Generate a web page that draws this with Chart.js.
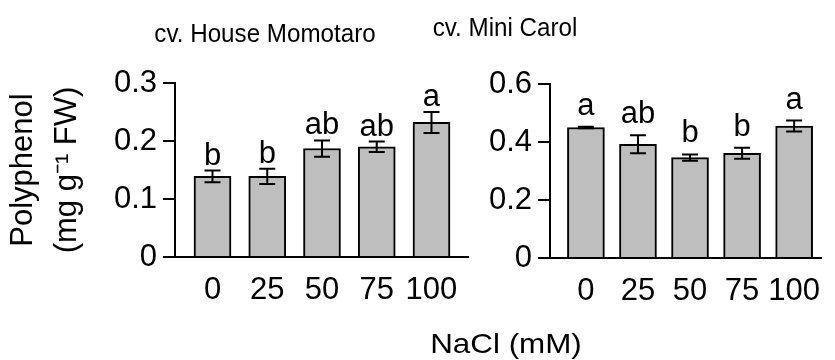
<!DOCTYPE html>
<html>
<head>
<meta charset="utf-8">
<script src="https://cdn.jsdelivr.net/npm/chart.js@4.4.0/dist/chart.umd.min.js"></script>
<style>
  body { margin: 0; background: #fff; }
  #wrap { position: relative; width: 835px; height: 360px; font-family: "Liberation Sans", Arial, sans-serif; color: #000; }
  canvas { position: absolute; left: 0; top: 0; }
  .txt { position: absolute; white-space: nowrap; line-height: 1; transform-origin: center; }
</style>
</head>
<body>
<div id="wrap">
  <canvas id="chartMomotaro" width="835" height="360"></canvas>
  <canvas id="chartCarol" width="835" height="360"></canvas>
  <div class="txt" style="left:265px; top:20px; font-size:26px; transform:translateX(-50%) scaleX(0.93);">cv. House Momotaro</div>
  <div class="txt" style="left:505px; top:14px; font-size:26px; transform:translateX(-50%) scaleX(0.93);">cv. Mini Carol</div>
  <div class="txt" style="left:506px; top:330px; font-size:28px; transform:translateX(-50%) scaleX(1.12);">NaCl (mM)</div>
</div>
<script>
// NaCl濃度 (mM)
var doses = ['0', '25', '50', '75', '100'];

// cv. House Momotaro
var momotaroMean = [0.139, 0.139, 0.187, 0.190, 0.232];
var momotaroErr = [0.010, 0.013, 0.014, 0.009, 0.018];
var momotaroLetters = ['b', 'b', 'ab', 'ab', 'a'];
var momotaroTicks = [0, 0.1, 0.2, 0.3];

// cv. Mini Carol
var carolMean = [0.450, 0.392, 0.346, 0.361, 0.455];
var carolErr = [0.003, 0.031, 0.011, 0.019, 0.019];
var carolLetters = ['a', 'ab', 'b', 'b', 'a'];
var carolTicks = [0, 0.2, 0.4, 0.6];

var FONT = '"Liberation Sans", Arial, sans-serif';

// エラーバーと有意差の文字
var errorBars = {
    id: 'errorBars',
    afterDatasetsDraw: function(chart, args, opts) {
        var ctx = chart.ctx;
        var xs = chart.scales.x, ys = chart.scales.y;
        ctx.save();
        ctx.strokeStyle = '#000';
        ctx.fillStyle = '#000';
        ctx.lineWidth = 2;
        ctx.font = '31px ' + FONT;
        ctx.textAlign = 'center';
        ctx.textBaseline = 'alphabetic';
        opts.means.forEach(function(m, i) {
            var px = xs.getPixelForValue(i);
            var top = ys.getPixelForValue(m + opts.errors[i]);
            var bot = ys.getPixelForValue(m - opts.errors[i]);
            ctx.beginPath();
            ctx.moveTo(px, top); ctx.lineTo(px, bot);
            ctx.moveTo(px - 8, top); ctx.lineTo(px + 8, top);
            ctx.moveTo(px - 8, bot); ctx.lineTo(px + 8, bot);
            ctx.stroke();
            ctx.fillText(opts.letters[i], px, top - opts.gap);
        });
        ctx.restore();
    }
};

function makeChart(id, means, errors, letters, ticks, p) {
    return new Chart(document.getElementById(id), {
        type: 'bar',
        data: {
            datasets: [{
                data: means.map(function(m, i) { return {x: i, y: m}; }),
                backgroundColor: '#bebebe',
                borderColor: '#000',
                borderWidth: 2,
                barThickness: 37
            }]
        },
        options: {
            responsive: false,
            animation: false,
            devicePixelRatio: 1,
            layout: { padding: p.padding },
            plugins: {
                legend: { display: false },
                tooltip: { enabled: false },
                errorBars: { means: means, errors: errors, letters: letters, gap: p.gap }
            },
            scales: {
                x: {
                    type: 'linear',
                    min: p.xMin,
                    max: p.xMax,
                    offset: false,
                    afterBuildTicks: function(s) { s.ticks = doses.map(function(d, i) { return {value: i}; }); },
                    afterFit: function(s) { s.height = p.xHeight; },
                    grid: { display: false, drawTicks: false },
                    border: { display: true, color: '#000', width: 2 },
                    ticks: {
                        color: '#000',
                        font: { size: 31, family: FONT },
                        padding: 15,
                        maxRotation: 0,
                        callback: function(v) { return doses[v]; }
                    }
                },
                y: {
                    min: 0,
                    max: ticks[ticks.length - 1],
                    afterBuildTicks: function(s) { s.ticks = ticks.map(function(v) { return {value: v}; }); },
                    afterFit: function(s) { s.width = p.yWidth; },
                    grid: { drawOnChartArea: false, drawTicks: true, tickLength: 12, color: '#000', lineWidth: 2 },
                    border: { display: true, color: '#000', width: 2 },
                    ticks: { color: '#000', font: { size: 31, family: FONT }, padding: 6 },
                    title: p.yTitle
                }
            }
        },
        plugins: [errorBars]
    });
}

makeChart('chartMomotaro', momotaroMean, momotaroErr, momotaroLetters, momotaroTicks, {
    padding: { left: 0, top: 83, right: 367, bottom: 0 },
    yWidth: 175,
    xHeight: 103,
    xMin: -0.685,
    xMax: 4.667,
    gap: 6,
    yTitle: {
        display: true,
        text: ['Polyphenol', '(mg g\u207B\u00B9 FW)'],
        color: '#000',
        font: { size: 31, family: FONT, lineHeight: 1.42 },
        padding: { top: 1, bottom: 0 }
    }
});

makeChart('chartCarol', carolMean, carolErr, carolLetters, carolTicks, {
    padding: { left: 0, top: 84, right: 0, bottom: 0 },
    yWidth: 550,
    xHeight: 102,
    xMin: -0.69,
    xMax: 4.525,
    gap: 12,
    yTitle: { display: false }
});
</script>
</body>
</html>
